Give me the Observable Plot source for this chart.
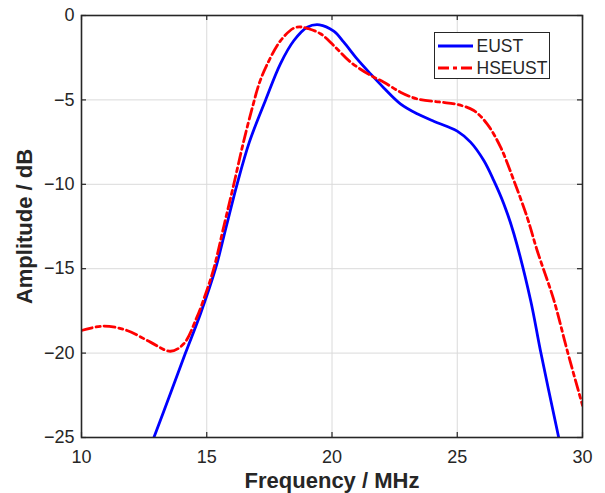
<!DOCTYPE html>
<html>
<head>
<meta charset="utf-8">
<script src="https://cdn.jsdelivr.net/npm/d3@7"></script>
<script src="https://cdn.jsdelivr.net/npm/@observablehq/plot@0.6"></script>
<style>
  body { margin: 0; background: white; }
  #wrap { position: relative; width: 605px; height: 493px; font-family: "Liberation Sans", Arial, sans-serif; color: #262626; }
  #legend { position: absolute; left: 434px; top: 32px; width: 114px; height: 45px; border: 1.5px solid #262626; background: white; }
  .row { position: absolute; left: 2.5px; height: 20px; display: flex; align-items: center; font-size: 17.5px; white-space: nowrap; }
  .row svg { margin-right: 4px; }
</style>
</head>
<body>
<div id="wrap"></div>
<script>
// Data
const euFreq = [12.89, 13.55, 14.15, 14.75, 15.35, 15.78, 16.21, 16.7, 17.35, 17.94, 18.48, 19.01, 19.5, 20.07, 20.47, 21.0, 21.54, 22.07, 22.73, 23.40, 24.06, 24.60, 25.0, 25.53, 26.06, 26.46, 26.86, 27.26, 27.93, 28.32, 29.05];
const euAmp  = [-25, -22.4, -20, -17.67, -15, -12.5, -10, -7.5, -5, -2.86, -1.48, -0.69, -0.55, -0.93, -1.58, -2.57, -3.46, -4.29, -5.23, -5.82, -6.26, -6.58, -6.85, -7.5, -8.59, -9.78, -11.16, -12.93, -16.88, -19.85, -25];
const hsFreq = [10.0, 10.89, 11.82, 12.75, 13.55, 14.08, 14.6, 15.0, 15.28, 15.68, 16.08, 16.45, 16.83, 17.1, 17.41, 17.94, 18.47, 18.75, 19.05, 19.54, 20.07, 20.74, 21.54, 22.07, 22.73, 23.40, 24.33, 25.0, 25.66, 26.19, 26.73, 27.26, 27.79, 28.19, 28.86, 29.39, 30.0];
const hsAmp  = [-18.66, -18.4, -18.66, -19.35, -19.89, -19.45, -17.9, -16.3, -15, -12.5, -10, -7.6, -5.4, -4.0, -2.9, -1.5, -0.75, -0.68, -0.78, -1.08, -1.78, -2.76, -3.55, -3.95, -4.54, -4.94, -5.13, -5.27, -5.63, -6.42, -7.8, -9.78, -11.95, -13.92, -16.88, -19.85, -23.1];
const xTicks = [10, 15, 20, 25, 30];
const yTicks = [-25, -20, -15, -10, -5, 0];
const seriesNames = ["EUST", "HSEUST"];
const xLabel = "Frequency / MHz";
const yLabel = "Amplitude / dB";

const eu = euFreq.map((f, i) => ({f, a: euAmp[i]}));
const hs = hsFreq.map((f, i) => ({f, a: hsAmp[i]}));

const W = 605, H = 493, mL = 81, mR = 23, mT = 15, mB = 56;
const pW = W - mL - mR, pH = H - mT - mB, tk = 5;
const ink = "#262626";
const redDash = "11,4,4,4";

const chart = Plot.plot({
  width: W, height: H, marginLeft: mL, marginRight: mR, marginTop: mT, marginBottom: mB,
  x: {domain: [10, 30]},
  y: {domain: [-25, 0]},
  style: {fontFamily: "Liberation Sans, Arial, sans-serif", fontSize: "18px", color: ink, background: "white"},
  marks: [
    Plot.gridX(xTicks.slice(1, -1), {stroke: "#dadada", strokeOpacity: 1, strokeWidth: 1}),
    Plot.gridY(yTicks.slice(1, -1), {stroke: "#dadada", strokeOpacity: 1, strokeWidth: 1}),
    Plot.line(eu, {x: "f", y: "a", stroke: "#0000ff", strokeWidth: 2.8, curve: "catmull-rom", clip: true}),
    Plot.line(hs, {x: "f", y: "a", stroke: "#ff0000", strokeWidth: 2.8, curve: "catmull-rom", strokeDasharray: redDash, clip: true}),
    Plot.ruleX(xTicks, {stroke: ink, strokeWidth: 1.2, insetTop: pH - tk}),
    Plot.ruleX(xTicks, {stroke: ink, strokeWidth: 1.2, insetBottom: pH - tk}),
    Plot.ruleY(yTicks, {stroke: ink, strokeWidth: 1.2, insetRight: pW - tk}),
    Plot.ruleY(yTicks, {stroke: ink, strokeWidth: 1.2, insetLeft: pW - tk}),
    Plot.frame({stroke: ink, strokeWidth: 1.6}),
    Plot.axisX(xTicks, {tickSize: 0, tickPadding: 13, label: null, fontSize: 18, fill: ink}),
    Plot.axisY(yTicks, {tickSize: 0, tickPadding: 7, label: null, fontSize: 18, fill: ink}),
    Plot.text([xLabel], {text: d => d, frameAnchor: "bottom", dy: 50, fontWeight: "bold", fontSize: 22, fill: ink}),
    Plot.text([yLabel], {text: d => d, frameAnchor: "left", textAnchor: "middle", dx: -57, rotate: -90, fontWeight: "bold", fontSize: 22, fill: ink})
  ]
});

const wrap = document.getElementById("wrap");
wrap.appendChild(chart);

// Legend
const legend = document.createElement("div");
legend.id = "legend";
const styles = [{stroke: "#0000ff", dash: null}, {stroke: "#ff0000", dash: redDash}];
seriesNames.forEach((name, i) => {
  const row = document.createElement("div");
  row.className = "row";
  row.style.top = (i === 0 ? 3 : 25) + "px";
  const s = styles[i];
  row.innerHTML = `<svg width="35" height="6"><line x1="0" x2="35" y1="3" y2="3" stroke="${s.stroke}" stroke-width="2.8" ${s.dash ? `stroke-dasharray="${s.dash}"` : ""}/></svg><span>${name}</span>`;
  legend.appendChild(row);
});
wrap.appendChild(legend);
</script>
</body>
</html>
